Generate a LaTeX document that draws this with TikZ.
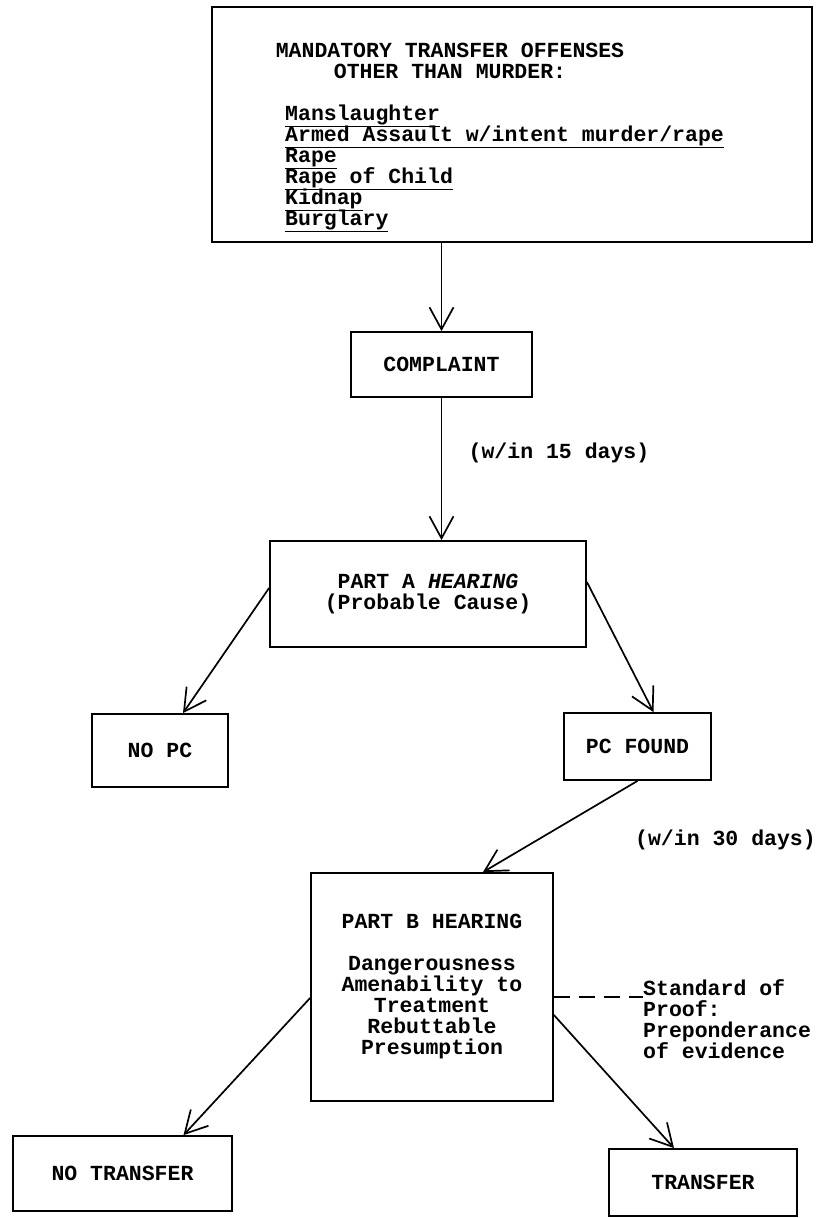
\documentclass[tikz,border=0pt]{standalone}
\usepackage{fontspec}
\newfontfamily\typed{Liberation Mono}
\newcommand\typedfont{\typed\bfseries\fontsize{21.5}{21}\selectfont\lineskiplimit=-20pt\relax}
\usetikzlibrary{arrows.meta, calc, positioning}

\begin{document}
\begin{tikzpicture}
			[x=1pt, y=-1pt,
			txt/.style={inner sep=0pt, font=\typedfont},
			box/.style={txt, draw, line width=1.8pt, align=center},
			flow/.style={line width=1.7pt, -{Straight Barb[length=22pt, width=24pt]}},
			aside/.style={line width=1.8pt, dash pattern=on 16pt off 9pt}]
			\useasboundingbox (0,0) rectangle (818,1218);

			\node[box, minimum width=600pt, minimum height=235pt](offenses) at (512,124.5) {};
			\node[txt, align=center](offhead) at (450,61) {MANDATORY TRANSFER OFFENSES\\OTHER THAN MURDER:};
			\node[txt, align=left, anchor=west](offlist) at (285,168) {\underline{Manslaughter}\\\underline{Armed Assault w/intent murder/rape}\\\underline{Rape}\\\underline{Rape of Child}\\\underline{Kidnap}\\\underline{Burglary}};

			\node[box, minimum width=181pt, minimum height=65pt](complaint) at (441.5,364.5) {COMPLAINT};
			\node[txt](days15) at (559,453) {(w/in 15 days)};

			\node[box, minimum width=316pt, minimum height=106pt](parta) at (428,594) {PART A \textit{HEARING}\\(Probable Cause)};
			\node[box, minimum width=136pt, minimum height=73pt](nopc) at (160,750.5) {NO PC};
			\node[box, minimum width=147pt, minimum height=67pt](pcfound) at (637.5,746.5) {PC FOUND};
			\node[txt, anchor=east](days30) at (816,840) {(w/in 30 days)};

			\node[box, minimum width=242pt, minimum height=228pt](partb) at (432,987) {PART B HEARING\\[21pt]Dangerousness\\Amenability to\\Treatment\\Rebuttable\\Presumption};
			\node[txt, align=left, anchor=west](proof) at (643,1019) {Standard of\\Proof:\\Preponderance\\of evidence};

			\node[box, minimum width=219pt, minimum height=75pt](notransfer) at (122.5,1173.5) {NO TRANSFER};
			\node[box, minimum width=188pt, minimum height=67pt](transfer) at (703,1182.5) {TRANSFER};

			\draw[flow] (offenses.south -| complaint.north) -- (complaint.north);
			\draw[flow] (complaint.south) -- (complaint.south |- parta.north);
			\draw[flow] ([yshift=6pt]parta.west) -- ([xshift=23pt]nopc.north);
			\draw[flow] ([yshift=12pt]parta.east) -- ([xshift=16pt]pcfound.north);
			\draw[flow] (pcfound.south) -- ([xshift=51pt]partb.north);
			\draw[flow] ([yshift=-11pt]partb.west) -- ([xshift=61pt]notransfer.north);
			\draw[flow] ([yshift=-28pt]partb.east) -- ([xshift=-29pt]transfer.north);
			\draw[aside] ([yshift=-10pt]partb.east) -- ([yshift=-10pt]partb.east -| proof.west);
		\end{tikzpicture}
\end{document}
